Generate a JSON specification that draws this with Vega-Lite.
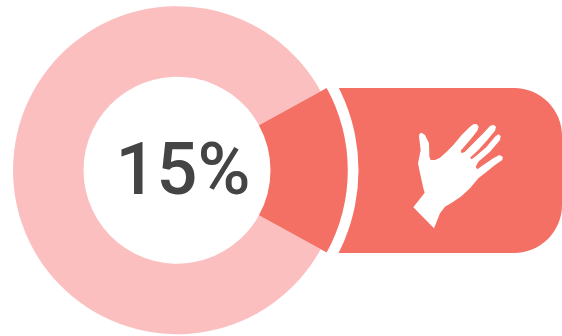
{
  "$schema": "https://vega.github.io/schema/vega-lite/v6.json",
  "autosize": "none",
  "width": 562,
  "height": 336,
  "padding": 0,
  "background": "white",
  "view": {"stroke": null},
  "layer": [
    {
      "data": {"values": [{"panel": "hand badge"}]},
      "mark": {"type": "rect", "color": "#F47065", "cornerRadiusTopRight": 48, "cornerRadiusBottomRight": 48},
      "encoding": {
        "x": {"datum": 300, "type": "quantitative", "axis": null, "scale": {"domain": [0, 562], "range": [0, 562], "nice": false}},
        "x2": {"datum": 562},
        "y": {"datum": 88, "type": "quantitative", "axis": null, "scale": {"domain": [0, 336], "range": [0, 336], "nice": false}},
        "y2": {"datum": 253}
      }
    },
    {
      "data": {"values": [{"panel": "gap"}]},
      "mark": {"type": "arc", "color": "white", "radius": 181.5, "radius2": 0, "theta": 0, "theta2": 6.2832},
      "encoding": {
        "x": {"datum": 177, "type": "quantitative", "axis": null, "scale": {"domain": [0, 562], "range": [0, 562], "nice": false}},
        "y": {"datum": 170.2, "type": "quantitative", "axis": null, "scale": {"domain": [0, 336], "range": [0, 336], "nice": false}}
      }
    },
    {
      "data": {"values": [{"part": "rest", "from": 15, "to": 100}]},
      "mark": {"type": "arc", "color": "#FBBFC0", "radius": 164, "radius2": 93.5},
      "encoding": {
        "x": {"datum": 177, "type": "quantitative", "axis": null, "scale": {"domain": [0, 562], "range": [0, 562], "nice": false}},
        "y": {"datum": 170.2, "type": "quantitative", "axis": null, "scale": {"domain": [0, 336], "range": [0, 336], "nice": false}},
        "theta": {"field": "from", "type": "quantitative", "stack": false,
          "scale": {"domain": [0, 15, 100], "range": [1.0681, 2.0735, 7.3513]}},
        "theta2": {"field": "to"}
      }
    },
    {
      "data": {"values": [{"part": "share", "from": 0, "to": 15}]},
      "mark": {"type": "arc", "color": "#F47065", "radius": 170.8, "radius2": 93.5},
      "encoding": {
        "x": {"datum": 177, "type": "quantitative", "axis": null, "scale": {"domain": [0, 562], "range": [0, 562], "nice": false}},
        "y": {"datum": 170.2, "type": "quantitative", "axis": null, "scale": {"domain": [0, 336], "range": [0, 336], "nice": false}},
        "theta": {"field": "from", "type": "quantitative", "stack": false,
          "scale": {"domain": [0, 15, 100], "range": [1.0681, 2.0735, 7.3513]}},
        "theta2": {"field": "to"}
      }
    },
    {
      "data": {"values": [{"label": "15%"}]},
      "mark": {"type": "text", "font": "Roboto", "fontWeight": 500, "fontSize": 72, "color": "#444444", "align": "center", "baseline": "alphabetic"},
      "encoding": {
        "x": {"datum": 183, "type": "quantitative", "axis": null, "scale": {"domain": [0, 562], "range": [0, 562], "nice": false}},
        "y": {"datum": 194, "type": "quantitative", "axis": null, "scale": {"domain": [0, 336], "range": [0, 336], "nice": false}},
        "text": {"field": "label"}
      }
    },
    {
      "data": {"values": [{"icon": "hand"}]},
      "mark": {
        "type": "point", "filled": true, "color": "white", "opacity": 1, "strokeWidth": 0, "size": 0.4444,
        "shape": "M-130 92L-96 48L-100 35L-112 -20L-116 -40L-108 -80L-113 -120L-112 -128L-105 -132L-95 -125L-83 -100L-82 -60L-78 -50L-65 -50L-50 -57L-30 -75L-10 -95L15 -125L40 -150L50 -157L60 -158L66 -150L62 -138L40 -110L12 -78L15 -70L25 -75L50 -100L80 -130L100 -152L110 -156L118 -150L115 -138L90 -108L65 -80L40 -57L45 -52L58 -62L90 -90L115 -120L125 -127L132 -122L130 -110L100 -75L65 -45L57 -30L62 -22L80 -35L110 -55L128 -65L138 -60L137 -50L115 -35L90 -15L65 5L40 35L15 58L-10 75L-35 90L-50 110L-68 155Z"
      },
      "encoding": {
        "x": {"datum": 456.67, "type": "quantitative", "axis": null, "scale": {"domain": [0, 562], "range": [0, 562], "nice": false}},
        "y": {"datum": 176.67, "type": "quantitative", "axis": null, "scale": {"domain": [0, 336], "range": [0, 336], "nice": false}}
      }
    }
  ]
}
